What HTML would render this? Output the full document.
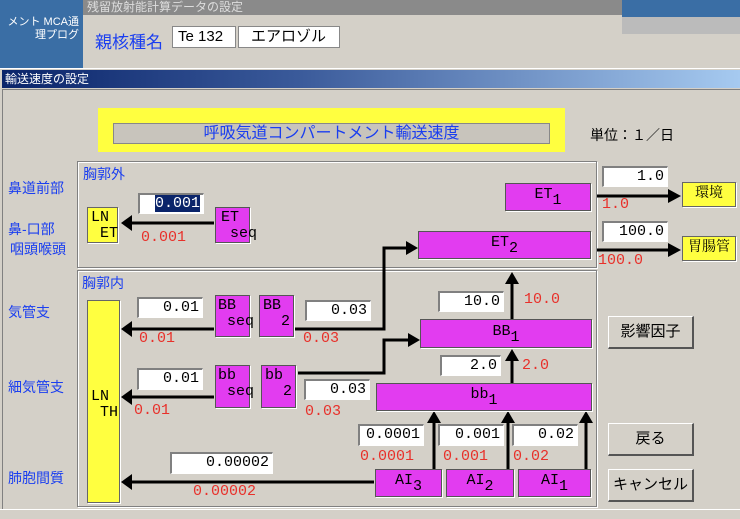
<!DOCTYPE html>
<html><head><meta charset="utf-8"><style>
*{margin:0;padding:0;box-sizing:border-box}
body{width:740px;height:519px;position:relative;overflow:hidden;background:#3a6ea5;font-family:"Liberation Sans","Noto Sans CJK JP",sans-serif}
.a{position:absolute}
.inp{position:absolute;background:#fff;border-top:2px solid #808080;border-left:2px solid #808080;border-bottom:1px solid #fff;border-right:1px solid #fff;font-family:"Liberation Mono","Noto Sans CJK JP",monospace;font-size:15px;text-align:right;padding-right:3px;line-height:18px;color:#000}
.m{position:absolute;background:#e23cf0;border:1px solid #555;box-shadow:1px 1px 0 #fff;font-family:"Liberation Mono","Noto Serif CJK SC",monospace;font-size:15px;color:#000;line-height:16px}
.y{position:absolute;background:#ffff40;border:1px solid #666;box-shadow:1px 1px 0 #fff;font-family:"Liberation Mono","Noto Serif CJK SC",monospace;font-size:15px;line-height:16px}
.r{position:absolute;color:#e8302a;font-family:"Liberation Mono",monospace;font-size:15px}
.bl{position:absolute;color:#1a3ef0;font-size:14px;font-family:"Liberation Sans","Noto Sans CJK JP",sans-serif}
.btn{position:absolute;background:#d4d0c8;border-top:1px solid #fff;border-left:1px solid #fff;border-right:2px solid #555;border-bottom:2px solid #555;font-size:15px;text-align:center;line-height:28px;font-family:"Liberation Sans","Noto Sans CJK JP",sans-serif}
.grp{position:absolute;border:1px solid #808080;box-shadow:1px 1px 0 #fff inset,1px 1px 0 #fff}
sub{font-size:15px;vertical-align:-6px}
</style></head><body>
<div class="a" style="left:83px;top:0;width:539px;height:68px;background:#d4d0c8"></div>
<div class="a" style="left:83px;top:0;width:539px;height:15px;background:#8a8a8a;color:#ddd;font-size:12px;padding-left:4px;line-height:14px">残留放射能計算データの設定</div>
<div class="a" style="left:95px;top:28px;color:#1a3ef0;font-size:17px">親核種名</div>
<div class="a" style="left:172px;top:26px;width:64px;height:22px;background:#fff;border:1px solid #888;font-size:15px;padding-left:5px;line-height:20px">Te 132</div>
<div class="a" style="left:238px;top:26px;width:102px;height:22px;background:#fff;border:1px solid #888;font-size:15px;padding-left:12px;line-height:20px">エアロゾル</div>
<div class="a" style="left:622px;top:17px;width:118px;height:17px;background:#bbb"></div>
<div class="a" style="left:622px;top:34px;width:118px;height:34px;background:#d4d0c8"></div>
<div class="a" style="left:0;top:16px;width:83px;height:30px;color:#fff;font-size:11px;line-height:13px;text-align:right;padding-right:4px">メント MCA通<br>理プログ</div>
<div class="a" style="left:0;top:68px;width:740px;height:451px;background:#d4d0c8;border-top:1px solid #fff"></div>
<div class="a" style="left:2px;top:70px;width:738px;height:18px;background:linear-gradient(90deg,#0a246a,#3a5a9a 40%,#a6caf0);color:#fff;font-size:12px;line-height:18px;padding-left:3px">輸送速度の設定</div>
<div class="a" style="left:2px;top:89px;width:738px;height:420px;border-top:1px solid #808080;border-left:1px solid #808080"></div>
<div class="a" style="left:98px;top:108px;width:467px;height:44px;background:#ffff40"></div>
<div class="a" style="left:113px;top:123px;width:437px;height:21px;background:#c8c4bc;border:1px solid #888;color:#1a3ef0;font-size:16px;text-align:center;line-height:19px">呼吸気道コンパートメント輸送速度</div>
<div class="a" style="left:590px;top:125px;font-size:14px">単位：１／日</div>
<div class="bl" style="left:8px;top:178px">鼻道前部</div>
<div class="bl" style="left:8px;top:219px">鼻-口部</div>
<div class="bl" style="left:10px;top:239px">咽頭喉頭</div>
<div class="bl" style="left:8px;top:302px">気管支</div>
<div class="bl" style="left:8px;top:377px">細気管支</div>
<div class="bl" style="left:8px;top:468px">肺胞間質</div>
<div class="grp" style="left:77px;top:161px;width:520px;height:107px"></div>
<div class="grp" style="left:77px;top:270px;width:520px;height:237px"></div>
<div class="bl" style="left:83px;top:164px">胸郭外</div>
<div class="bl" style="left:82px;top:273px">胸郭内</div>
<svg class="a" style="left:0;top:0" width="740" height="519">
<g stroke="#000" stroke-width="3" fill="none">
<line x1="214" y1="223" x2="128" y2="223"/>
<line x1="597" y1="196" x2="670" y2="196"/>
<line x1="597" y1="250" x2="670" y2="250"/>
<polyline points="295,329 384,329 384,248 408,248"/>
<polyline points="298,373 384,373 384,340 410,340"/>
<line x1="214" y1="329" x2="128" y2="329"/>
<line x1="214" y1="397" x2="128" y2="397"/>
<line x1="374" y1="482" x2="128" y2="482"/>
<line x1="512" y1="319" x2="512" y2="282"/>
<line x1="512" y1="383" x2="512" y2="358"/>
<line x1="434" y1="469" x2="434" y2="421"/>
<line x1="508" y1="469" x2="508" y2="421"/>
<line x1="586" y1="469" x2="586" y2="421"/>
</g>
<g fill="#000">
<polygon points="121,223 132,215 132,231"/>
<polygon points="121,329 132,321 132,337"/>
<polygon points="121,397 132,389 132,405"/>
<polygon points="121,482 132,474 132,490"/>
<polygon points="681,196 668,189 668,203"/>
<polygon points="681,250 668,243 668,257"/>
<polygon points="418,248 406,241 406,255"/>
<polygon points="420,340 408,333 408,347"/>
<polygon points="512,272 505,284 519,284"/>
<polygon points="512,349 505,361 519,361"/>
<polygon points="434,411 427,423 441,423"/>
<polygon points="508,411 501,423 515,423"/>
<polygon points="586,411 579,423 593,423"/>
</g>
</svg>
<div class="y" style="left:87px;top:207px;width:31px;height:36px;padding:2px 0 0 3px">LN<br>&nbsp;ET</div>
<div class="inp" style="left:138px;top:193px;width:66px;height:21px"><span style="background:#0a246a;color:#fff">0.001</span></div>
<div class="m" style="left:215px;top:207px;width:35px;height:36px;padding:2px 0 0 5px">ET<br>&nbsp;seq</div>
<div class="r" style="left:141px;top:229px">0.001</div>
<div class="m" style="left:505px;top:183px;width:86px;height:28px;text-align:center;line-height:22px">ET<sub>1</sub></div>
<div class="m" style="left:418px;top:231px;width:173px;height:28px;text-align:center;line-height:22px">ET<sub>2</sub></div>
<div class="inp" style="left:602px;top:166px;width:66px;height:21px">1.0</div>
<div class="r" style="left:602px;top:196px">1.0</div>
<div class="y" style="left:682px;top:182px;width:54px;height:25px;text-align:center;line-height:23px;font-size:14px">環境</div>
<div class="inp" style="left:602px;top:221px;width:66px;height:21px">100.0</div>
<div class="r" style="left:598px;top:252px">100.0</div>
<div class="y" style="left:682px;top:236px;width:54px;height:25px;text-align:center;line-height:23px;font-size:14px">胃腸管</div>
<div class="y" style="left:87px;top:300px;width:33px;height:203px;padding:88px 0 0 3px">LN<br>&nbsp;TH</div>
<div class="inp" style="left:137px;top:297px;width:66px;height:21px">0.01</div>
<div class="m" style="left:215px;top:295px;width:35px;height:42px;padding:2px 0 0 2px">BB<br>&nbsp;seq</div>
<div class="m" style="left:259px;top:295px;width:35px;height:42px;padding:2px 0 0 3px">BB<br>&nbsp;&nbsp;2</div>
<div class="inp" style="left:305px;top:300px;width:66px;height:21px">0.03</div>
<div class="r" style="left:139px;top:330px">0.01</div>
<div class="r" style="left:303px;top:330px">0.03</div>
<div class="inp" style="left:438px;top:291px;width:66px;height:21px">10.0</div>
<div class="r" style="left:524px;top:291px">10.0</div>
<div class="m" style="left:420px;top:319px;width:172px;height:29px;text-align:center;line-height:24px">BB<sub>1</sub></div>
<div class="inp" style="left:137px;top:368px;width:66px;height:22px">0.01</div>
<div class="m" style="left:215px;top:365px;width:35px;height:43px;padding:2px 0 0 2px">bb<br>&nbsp;seq</div>
<div class="m" style="left:261px;top:365px;width:35px;height:43px;padding:2px 0 0 3px">bb<br>&nbsp;&nbsp;2</div>
<div class="inp" style="left:304px;top:379px;width:66px;height:21px">0.03</div>
<div class="r" style="left:134px;top:402px">0.01</div>
<div class="r" style="left:305px;top:403px">0.03</div>
<div class="inp" style="left:440px;top:355px;width:61px;height:21px">2.0</div>
<div class="r" style="left:522px;top:357px">2.0</div>
<div class="m" style="left:376px;top:383px;width:216px;height:28px;text-align:center;line-height:22px">bb<sub>1</sub></div>
<div class="inp" style="left:358px;top:424px;width:66px;height:22px">0.0001</div>
<div class="inp" style="left:438px;top:424px;width:66px;height:22px">0.001</div>
<div class="inp" style="left:512px;top:424px;width:66px;height:22px">0.02</div>
<div class="r" style="left:360px;top:448px">0.0001</div>
<div class="r" style="left:443px;top:448px">0.001</div>
<div class="r" style="left:513px;top:448px">0.02</div>
<div class="m" style="left:375px;top:469px;width:67px;height:28px;text-align:center;line-height:22px">AI<sub>3</sub></div>
<div class="m" style="left:446px;top:469px;width:68px;height:28px;text-align:center;line-height:22px">AI<sub>2</sub></div>
<div class="m" style="left:518px;top:469px;width:73px;height:28px;text-align:center;line-height:22px">AI<sub>1</sub></div>
<div class="inp" style="left:170px;top:452px;width:103px;height:22px">0.00002</div>
<div class="r" style="left:193px;top:483px">0.00002</div>
<div class="btn" style="left:608px;top:316px;width:86px;height:33px;line-height:30px">影響因子</div>
<div class="btn" style="left:608px;top:423px;width:86px;height:33px;line-height:30px">戻る</div>
<div class="btn" style="left:608px;top:469px;width:86px;height:33px;line-height:30px">キャンセル</div>
<div class="a" style="left:0;top:509px;width:740px;height:10px;background:#d4d0c8;border-top:1px solid #fff"></div>
</body></html>
